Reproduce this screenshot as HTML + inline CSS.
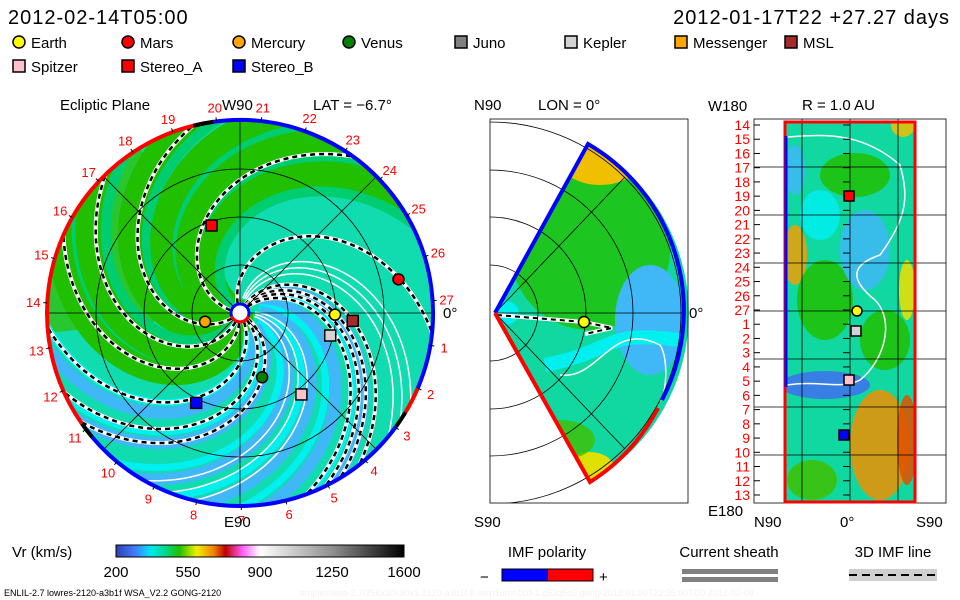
<!DOCTYPE html>
<html><head><meta charset="utf-8"><style>
html,body{margin:0;padding:0;background:#fff;}
svg{display:block;font-family:"Liberation Sans",sans-serif;}
</style></head><body>
<svg id="s" width="960" height="600" viewBox="0 0 960 600" xmlns="http://www.w3.org/2000/svg">
<defs>
<clipPath id="disk"><circle cx="240" cy="313" r="193"/></clipPath>
<clipPath id="wedge"><path d="M495,313 L588,144 A193,193 0 0 1 590,482 Z"/></clipPath>
<clipPath id="midbox"><rect x="490" y="119" width="198" height="384"/></clipPath>
<clipPath id="rbox"><rect x="785" y="122" width="130" height="380"/></clipPath>
<linearGradient id="cbar" x1="0" x2="1">
<stop offset="0" stop-color="#3040b0"/><stop offset="0.07" stop-color="#4080ff"/><stop offset="0.12" stop-color="#00e8f0"/><stop offset="0.17" stop-color="#00d890"/><stop offset="0.22" stop-color="#20c000"/><stop offset="0.28" stop-color="#f0f000"/><stop offset="0.34" stop-color="#f08000"/><stop offset="0.38" stop-color="#c00000"/><stop offset="0.44" stop-color="#ff60ff"/><stop offset="0.5" stop-color="#ffffff"/><stop offset="0.75" stop-color="#909090"/><stop offset="1" stop-color="#000000"/>
</linearGradient>
</defs>

<text x="8" y="24" font-size="20" letter-spacing="1">2012-02-14T05:00</text>
<text x="950" y="24" font-size="20" text-anchor="end" letter-spacing="1">2012-01-17T22 +27.27 days</text>

<g id="legend" font-size="15"></g>

<g>
<text x="60" y="110" font-size="15">Ecliptic Plane</text>
<text x="313" y="110" font-size="15">LAT = −6.7°</text>
<g clip-path="url(#disk)" id="diskg">
<circle cx="240" cy="313" r="193" fill="#10dcb0"/>
</g>
<g id="diskgrid"></g>
<g id="disknums" font-size="13" fill="#f00"></g>
<text x="224" y="527" font-size="15">E90</text>
<text x="222" y="110" font-size="15">W90</text>
<text x="443" y="318" font-size="15">0°</text>
</g>

<g>
<text x="474" y="110" font-size="15">N90</text>
<text x="538" y="110" font-size="15">LON = 0°</text>
<text x="474" y="527" font-size="15">S90</text>
<text x="689" y="318" font-size="15">0°</text>
<g id="mer"></g>
</g>

<g>
<text x="802" y="110" font-size="15">R = 1.0 AU</text>
<text x="708" y="111" font-size="15">W180</text>
<text x="708" y="516" font-size="15">E180</text>
<text x="754" y="527" font-size="15">N90</text>
<text x="840" y="527" font-size="15">0°</text>
<text x="916" y="527" font-size="15">S90</text>
<g id="rp"></g>
</g>

<g>
<text x="12" y="557" font-size="15">Vr (km/s)</text>
<rect x="116" y="545" width="288" height="12" fill="url(#cbar)" stroke="#000"/>
<g id="cbticks" font-size="15" text-anchor="middle"></g>
</g>
<g>
<text x="547" y="557" font-size="15" text-anchor="middle">IMF polarity</text>
<text x="480" y="582" font-size="15">−</text>
<rect x="502" y="569" width="46" height="12" fill="#00f"/>
<rect x="548" y="569" width="45" height="12" fill="#f00"/>
<rect x="502" y="569" width="91" height="12" fill="none" stroke="#000"/>
<text x="599" y="582" font-size="15">+</text>
</g>
<g>
<text x="729" y="557" font-size="15" text-anchor="middle">Current sheath</text>
<rect x="682" y="569" width="96" height="5" fill="#808080"/>
<rect x="682" y="577" width="96" height="5" fill="#808080"/>
</g>
<g>
<text x="893" y="557" font-size="15" text-anchor="middle">3D IMF line</text>
<rect x="849" y="569" width="88" height="12" fill="#d0d0d0"/>
<line x1="849" y1="575" x2="937" y2="575" stroke="#000" stroke-width="2" stroke-dasharray="8,5"/>
</g>
<text x="4" y="596" font-size="9">ENLIL-2.7 lowres-2120-a3b1f WSA_V2.2 GONG-2120</text>
<text x="300" y="596" font-size="9" fill="#f2f2f2">amples/wsa-2.7/256x30x90x1.2120-a3b1f.8-mcp1umn1cd-1.g53q5d2.gong-2012:01:09T22:35:00TC0   2012-02-09</text>
</svg>
<script>
const NS='http://www.w3.org/2000/svg';
function mk(p,t,a){const e=document.createElementNS(NS,t);for(const k in a)e.setAttribute(k,a[k]);p.appendChild(e);return e;}
const cx=240,cy=313,R=193;
const legendNames=['Earth','Mars','Mercury','Venus','Juno','Kepler','Messenger','MSL','Spitzer','Stereo_A','Stereo_B'];
const legendColors=['#ffff00','#ff0000','#ffa500','#008000','#808080','#d3d3d3','#ffa500','#a52a2a','#ffc0cb','#ff0000','#0000ff'];
const legendShapes=['c','c','c','c','s','s','s','s','s','s','s'];
const planetNames=['Earth','Mars','Mercury','Venus','Kepler','MSL','Spitzer','Stereo_A','Stereo_B'];
const planetRadiusPx=[95,162,36,68,93,113,102,92,100];
const planetAngleDeg=[1,-12,166,71,14,4,53,-108,116];
const planetShapes=['c','c','c','c','s','s','s','s','s'];
const planetColors=['#ffff00','#ff0000','#ffa500','#008000','#d3d3d3','#a52a2a','#ffc0cb','#ff0000','#0000ff'];
const imfArmAngles=[-110,-50,-4,3,8,14,90,100,120,148,170,-160];
const sectorArmAngles=[-28,-22,-16,48,56,64];
const greenArmAngles=[-165,-140,-118,-96,145,165];
const blueArmAngles=[5,25,45,65,90,112];
const cbTicks=[200,550,900,1250,1600];
const dayLabels=[14,15,16,17,18,19,20,21,22,23,24,25,26,27,1,2,3,4,5,6,7,8,9,10,11,12,13];

const K=0.6;
function spiral(a100,r0,r1){let d='';for(let r=r0;r<=r1;r+=3){const a=(a100+K*(r-100))*Math.PI/180;d+=(d?'L':'M')+(cx+r*Math.cos(a)).toFixed(1)+','+(cy+r*Math.sin(a)).toFixed(1);}return d;}
function polar(r,deg){const a=deg*Math.PI/180;return [cx+r*Math.cos(a),cy+r*Math.sin(a)];}

const lg=document.getElementById('legend');
legendNames.forEach((n,i)=>{
  const col=i<8?i:i-8,row=i<8?0:1;
  const xs=[13,122,233,343,455,565,675,785];
  const x=xs[col],y=row?72:48;
  let m;
  if(legendShapes[i]=='c'){m=mk(lg,'circle',{cx:x+6,cy:y-6,r:6,fill:legendColors[i],stroke:'#000','stroke-width':1.5});}
  else{m=mk(lg,'rect',{x:x,y:y-12,width:12,height:12,fill:legendColors[i],stroke:'#000','stroke-width':1.5});}
  
  
  const t=mk(lg,'text',{x:x+18,y:y});t.textContent=n;
  
  
});

const dg=document.getElementById('diskg');
mk(dg,'path',{d:`M${cx},${cy} L${cx-193},${cy+20} A193,193 0 0 1 ${cx-100},${cy-165} Z`,fill:'#30c010',opacity:0.8});
greenArmAngles.forEach(a=>{const p=mk(dg,'path',{d:spiral(a,0,260),fill:'none',stroke:'#20c000','stroke-width':26});

mk(dg,'path',{d:spiral(a+12,0,260),fill:'none',stroke:'#00cc70','stroke-width':10});});
blueArmAngles.forEach(a=>{const p=mk(dg,'path',{d:spiral(a,20,260),fill:'none',stroke:'#40b8f8','stroke-width':12});

mk(dg,'path',{d:spiral(a+8,20,260),fill:'none',stroke:'#00f0f0','stroke-width':7});});
sectorArmAngles.forEach(a=>{const p=mk(dg,'path',{d:spiral(a,15,260),fill:'none',stroke:'#fff','stroke-width':1.5});
});
imfArmAngles.forEach(a=>{
  mk(dg,'path',{d:spiral(a,10,260),fill:'none',stroke:'#fff','stroke-width':4});
  const p=mk(dg,'path',{d:spiral(a,10,260),fill:'none',stroke:'#000','stroke-width':2.5,'stroke-dasharray':'5,4'});
  
});
const gg=document.getElementById('diskgrid');
[48,96,144].forEach(r=>mk(gg,'circle',{cx,cy,r,fill:'none',stroke:'#000','stroke-width':0.8}));
mk(gg,'line',{x1:cx-R,y1:cy,x2:cx+R,y2:cy,stroke:'#000','stroke-width':0.8});
mk(gg,'line',{x1:cx,y1:cy-R,x2:cx,y2:cy+R,stroke:'#000','stroke-width':0.8});
[45,135].forEach(d=>{const a=polar(R,d),b=polar(R,d+180);mk(gg,'line',{x1:a[0],y1:a[1],x2:b[0],y2:b[1],stroke:'#000','stroke-width':0.8});});
function arc(r,a0,a1){const p=polar(r,a0),q=polar(r,a1);return `M${p[0]},${p[1]} A${r},${r} 0 ${(a1-a0)>180?1:0} 1 ${q[0]},${q[1]}`;}
let e=mk(gg,'path',{d:arc(R,-98,23),fill:'none',stroke:'#00f','stroke-width':4});
e=mk(gg,'path',{d:arc(R,36,140),fill:'none',stroke:'#00f','stroke-width':4});
e=mk(gg,'path',{d:arc(R,145,262),fill:'none',stroke:'#f00','stroke-width':4});
mk(gg,'path',{d:arc(R,23,31),fill:'none',stroke:'#f00','stroke-width':4});
mk(gg,'path',{d:arc(R,31,36),fill:'none',stroke:'#000','stroke-width':4});
mk(gg,'path',{d:arc(R,140,145),fill:'none',stroke:'#000','stroke-width':4});
mk(gg,'path',{d:arc(R,-104,-98),fill:'none',stroke:'#000','stroke-width':4});
mk(gg,'circle',{cx,cy,r:9,fill:'#fff',stroke:'#00f','stroke-width':3});
mk(gg,'path',{d:arc(9,20,160),fill:'none',stroke:'#f00','stroke-width':3});
planetNames.forEach((n,i)=>{
  const p=polar(planetRadiusPx[i],planetAngleDeg[i]);let m;
  if(planetShapes[i]=='c')m=mk(gg,'circle',{cx:p[0],cy:p[1],r:5.5,fill:planetColors[i],stroke:'#000','stroke-width':1.5});
  else m=mk(gg,'rect',{x:p[0]-5.5,y:p[1]-5.5,width:11,height:11,fill:planetColors[i],stroke:'#000','stroke-width':1.5});
  
  
});
const dn=document.getElementById('disknums');
dayLabels.forEach((d,i)=>{
  const ang=-97+(i-6)*13.33;
  const p=polar(R+14,ang);
  const t=mk(dn,'text',{x:p[0],y:p[1]+5,'text-anchor':'middle'});t.textContent=d;
  
  
  const q=polar(R,ang),q2=polar(R+4,ang);mk(dn,'line',{x1:q[0],y1:q[1],x2:q2[0],y2:q2[1],stroke:'#000'});
});

const mg=document.getElementById('mer');
const mc=mk(mg,'g',{'clip-path':'url(#wedge)'});
mk(mc,'rect',{x:490,y:119,width:200,height:384,fill:'#10d8a0'});
mk(mc,'ellipse',{cx:590,cy:250,rx:80,ry:80,fill:'#20c000',opacity:0.8});
mk(mc,'ellipse',{cx:600,cy:160,rx:40,ry:25,fill:'#f0c000'});
mk(mc,'ellipse',{cx:650,cy:320,rx:35,ry:55,fill:'#40b8f8'});
mk(mc,'ellipse',{cx:590,cy:470,rx:25,ry:18,fill:'#e0e000'});
mk(mc,'ellipse',{cx:560,cy:440,rx:35,ry:20,fill:'#40c000',opacity:0.8});
mk(mc,'ellipse',{cx:505,cy:313,rx:14,ry:12,fill:'#00f0f0'});
mk(mc,'path',{d:'M545,365 C620,350 600,330 680,340',fill:'none',stroke:'#00f0f0','stroke-width':14});
mk(mc,'path',{d:'M560,375 C600,380 610,320 660,345 C670,360 665,400 660,400',fill:'none',stroke:'#fff','stroke-width':1.5});
mk(mc,'path',{d:'M497,315 L584,322 L612,328 L585,334',fill:'none',stroke:'#fff','stroke-width':4});
mk(mc,'path',{d:'M497,315 L584,322 L612,328 L585,334',fill:'none',stroke:'#000','stroke-width':2,'stroke-dasharray':'5,4'});
const mgc=mk(mg,'g',{'clip-path':'url(#midbox)'});
[48,96,143,191].forEach(r=>mk(mgc,'circle',{cx:490,cy:313,r,fill:'none',stroke:'#000','stroke-width':0.8}));
mk(mg,'rect',{x:490,y:119,width:198,height:384,fill:'none',stroke:'#000','stroke-width':0.8});
mk(mg,'line',{x1:495,y1:313,x2:683,y2:313,stroke:'#000','stroke-width':0.8});
mk(mg,'line',{x1:495,y1:313,x2:625,y2:177,stroke:'#000','stroke-width':0.8});
mk(mg,'line',{x1:495,y1:313,x2:625,y2:449,stroke:'#000','stroke-width':0.8});
e=mk(mg,'path',{d:'M495,313 L588,144 A193,193 0 0 1 662,400',fill:'none',stroke:'#00f','stroke-width':4});

e=mk(mg,'path',{d:'M495,313 L590,482 A193,193 0 0 0 658,408',fill:'none',stroke:'#f00','stroke-width':4});

e=mk(mg,'circle',{cx:584,cy:322,r:5.5,fill:'#ff0',stroke:'#000','stroke-width':1.5});


const rp=document.getElementById('rp');
mk(rp,'rect',{x:754,y:119,width:192,height:384,fill:'none',stroke:'#000','stroke-width':0.8});
const rc=mk(rp,'g',{'clip-path':'url(#rbox)'});
mk(rc,'rect',{x:785,y:122,width:130,height:380,fill:'#10d8a0'});
[[855,175,35,22,'#20c000'],[820,215,20,25,'#00f0f0'],[903,125,12,12,'#f0c000'],[795,255,12,30,'#f0a000'],[825,300,28,40,'#20c000'],[865,250,25,40,'#40b8f8'],[825,385,45,14,'#4070f0'],[880,445,30,55,'#f09000'],[907,440,10,45,'#e05000'],[812,480,25,20,'#40c000'],[907,290,8,30,'#f0e000'],[885,340,25,30,'#20c000'],[795,170,10,25,'#40b8f8']].forEach(v=>mk(rc,'ellipse',{cx:v[0],cy:v[1],rx:v[2],ry:v[3],fill:v[4],opacity:0.85}));
mk(rc,'path',{d:'M787,137 C820,135 860,130 900,165 C910,200 905,220 880,255 C850,265 850,280 875,300 C895,320 885,360 860,380 C840,390 820,380 787,385',fill:'none',stroke:'#fff','stroke-width':1.5});
[802,850,898].forEach(x=>mk(rp,'line',{x1:x,y1:119,x2:x,y2:503,stroke:'#000','stroke-width':0.8}));
[167,215,263,311,359,407,455].forEach(y=>mk(rp,'line',{x1:754,y1:y,x2:946,y2:y,stroke:'#000','stroke-width':0.8}));
dayLabels.forEach((d,i)=>{const y=125+i*14.23;
  const t=mk(rp,'text',{x:750,y:y+5,'font-size':14,fill:'#f00','text-anchor':'end'});t.textContent=d;
  
  
  mk(rp,'line',{x1:754,y1:y,x2:760,y2:y,stroke:'#000'});
  mk(rp,'line',{x1:843,y1:y,x2:850,y2:y,stroke:'#000'});});
mk(rp,'rect',{x:785,y:122,width:130,height:380,fill:'none',stroke:'#f00','stroke-width':3});
mk(rp,'line',{x1:786,y1:136,x2:786,y2:387,stroke:'#00f','stroke-width':3});
[['s',849,196,'#f00','stereo_a'],['c',857,311,'#ff0','earth'],['s',856,331,'#d3d3d3','kepler'],['s',849,380,'#ffc0cb','spitzer'],['s',844,435,'#00f','stereo_b']].forEach(v=>{
  let m;if(v[0]=='c')m=mk(rp,'circle',{cx:v[1],cy:v[2],r:5,fill:v[3],stroke:'#000','stroke-width':1.5});
  else m=mk(rp,'rect',{x:v[1]-5,y:v[2]-5,width:10,height:10,fill:v[3],stroke:'#000','stroke-width':1.5});
  
  });

const cbt=document.getElementById('cbticks');
cbTicks.forEach(v=>{const x=116+(v-200)/1400*288;const t=mk(cbt,'text',{x:x,y:577});t.textContent=v;
  
  });
</script>
</body></html>
